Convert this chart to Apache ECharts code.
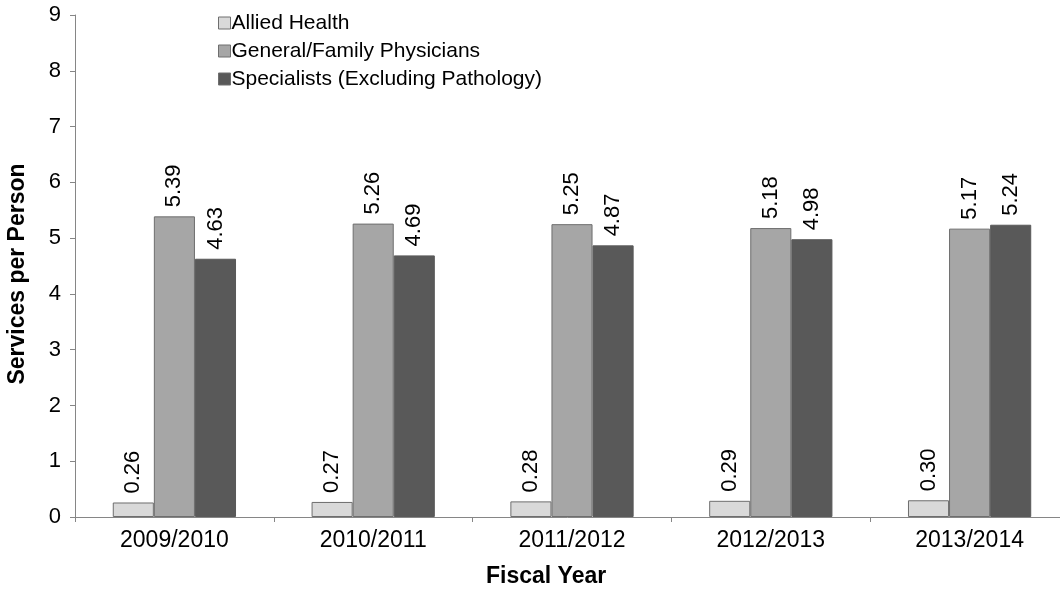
<!DOCTYPE html>
<html>
<head>
<meta charset="utf-8">
<script src="https://cdn.jsdelivr.net/npm/echarts@6/dist/echarts.min.js"></script>
<style>html,body{margin:0;padding:0;background:#fff}#c{width:1060px;height:596px}</style>
</head>
<body>
<div id="c"></div>
<script>
const categories = ['2009/2010','2010/2011','2011/2012','2012/2013','2013/2014'];
const alliedHealth = [0.26, 0.27, 0.28, 0.29, 0.30];
const generalFamily = [5.39, 5.26, 5.25, 5.18, 5.17];
const specialists = [4.63, 4.69, 4.87, 4.98, 5.24];
const seriesNames = ['Allied Health','General/Family Physicians','Specialists (Excluding Pathology)'];

const font = 'Liberation Sans, Arial, sans-serif';
const FS = 22;
const chart = echarts.init(document.getElementById('c'), null, {renderer:'canvas'});
const lbl = {
  show: true, position: 'top', rotate: 90, align: 'left', verticalAlign: 'middle',
  distance: 9, color: '#000', fontSize: FS, fontFamily: font,
  formatter: p => p.value.toFixed(2)
};
function mk(name, data, color, border) {
  return {
    name, type: 'bar', data, barGap: '0%', barCategoryGap: '38%',
    itemStyle: {color, borderColor: border, borderWidth: 1},
    label: lbl, animation: false
  };
}
chart.setOption({
  animation: false,
  textStyle: {fontFamily: font},
  grid: {left: 75, right: -9, top: 15, bottom: 79, containLabel: false, outerBoundsMode: 'none'},
  legend: {
    orient: 'vertical', left: 213, top: 7, itemWidth: 12, itemHeight: 12, itemGap: 6,
    icon: 'rect', textStyle: {fontSize: 21, lineHeight: 22, color: '#000', fontFamily: font, padding:[0,0,0,-4]},
    data: seriesNames.map((n,i)=>({name:n, itemStyle:{borderColor:'#6e6e6e', borderWidth:1}}))
  },
  graphic: [{
    type: 'text', left: 548 - 62, top: 565,
    style: {text: 'Fiscal Year', fill: '#000', font: 'bold 23px Liberation Sans, Arial, sans-serif'}
  }],
  xAxis: {
    type: 'category', data: categories,
    axisLine: {lineStyle: {color: '#868686', width: 1}},
    axisTick: {show: true, alignWithLabel: false, length: 5, lineStyle: {color: '#868686'}},
    axisLabel: {fontSize: 23, color: '#000', margin: 12, fontFamily: font}
  },
  yAxis: {
    type: 'value', min: 0, max: 9, interval: 1,
    name: 'Services per Person', nameLocation: 'middle', nameGap: 46, nameRotate: 90,
    nameTextStyle: {fontSize: 23, fontWeight: 'bold', color: '#000', fontFamily: font, padding: [0, 16, 0, 0]},
    axisLine: {show: true, lineStyle: {color: '#868686', width: 1}},
    axisTick: {show: true, length: 5, lineStyle: {color: '#868686'}},
    splitLine: {show: false},
    axisLabel: {fontSize: FS, color: '#000', margin: 14, fontFamily: font}
  },
  series: [
    mk(seriesNames[0], alliedHealth, '#d9d9d9', '#6e6e6e'),
    mk(seriesNames[1], generalFamily, '#a6a6a6', '#6e6e6e'),
    mk(seriesNames[2], specialists, '#595959', '#595959')
  ]
});
</script>
</body>
</html>
